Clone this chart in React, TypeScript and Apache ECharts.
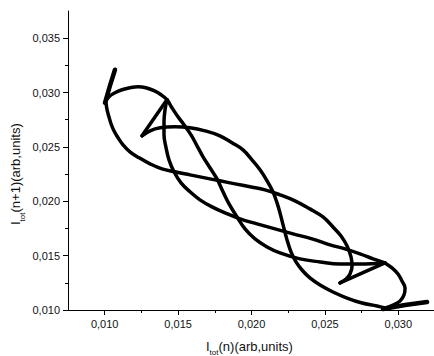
import React, { useEffect, useRef } from 'react';
import * as echarts from 'echarts';

// Axis ticks (data units)
const xMajorTicks = [0.01, 0.015, 0.02, 0.025, 0.03];
const xMinorTicks = [0.0125, 0.0175, 0.0225, 0.0275];
const yMajorTicks = [0.01, 0.015, 0.02, 0.025, 0.03, 0.035];
const yMinorTicks = [0.0125, 0.0175, 0.0225, 0.0275, 0.0325];

// Trajectory pieces, [I(n), I(n+1)]
const hookTopLeft = [[0.0107, 0.0321], [0.01036, 0.03063], [0.01002, 0.02906]];
const topArcToArrowTip = [
  [0.01002, 0.02906], [0.01029, 0.02961], [0.0107, 0.02998], [0.01118, 0.03026],
  [0.01172, 0.03044], [0.01227, 0.03053], [0.01281, 0.03044], [0.01336, 0.03017],
  [0.01384, 0.0298], [0.01424, 0.02934], [0.01458, 0.0286], [0.01499, 0.02777],
  [0.0154, 0.02704], [0.01588, 0.02611], [0.01629, 0.0251], [0.0167, 0.02409],
  [0.01717, 0.02308], [0.01765, 0.02206], [0.01806, 0.02087], [0.01847, 0.01976],
  [0.01901, 0.01856], [0.01956, 0.01746], [0.02024, 0.01654], [0.02106, 0.0158],
  [0.02194, 0.01525], [0.0233, 0.0147], [0.02467, 0.01442], [0.02603, 0.01424],
  [0.02739, 0.01424], [0.02909, 0.01433],
];
const arrowTipToCorner = [[0.02909, 0.01433], [0.02603, 0.01249]];
const leftSweep = [
  [0.01009, 0.02906], [0.01016, 0.02842], [0.01029, 0.02777], [0.01043, 0.02713],
  [0.01063, 0.02648], [0.01091, 0.02584], [0.01125, 0.02519], [0.01172, 0.02455],
  [0.01234, 0.024], [0.01309, 0.02344], [0.0139, 0.02298], [0.01479, 0.02271],
  [0.01581, 0.02243], [0.01683, 0.02215], [0.01785, 0.02188], [0.01888, 0.0216],
  [0.0199, 0.02133], [0.02092, 0.02105], [0.02194, 0.02059], [0.02296, 0.02004],
  [0.02398, 0.0193], [0.02487, 0.01856], [0.02555, 0.01764], [0.0261, 0.01681],
  [0.02651, 0.01589], [0.02678, 0.01488], [0.02685, 0.01405], [0.02671, 0.01331],
  [0.02644, 0.01285], [0.02603, 0.01249],
];
const apexToCorner = [[0.01424, 0.02934], [0.01254, 0.02602]];
const lensArc = [
  [0.01254, 0.02602], [0.01309, 0.02648], [0.01377, 0.02676], [0.01479, 0.02685],
  [0.01581, 0.02676], [0.01683, 0.02648], [0.01785, 0.02602], [0.01867, 0.02538],
  [0.01942, 0.02473], [0.02003, 0.02381], [0.02058, 0.02289], [0.02106, 0.02188],
  [0.02146, 0.02087], [0.02174, 0.01985], [0.02194, 0.01893], [0.02215, 0.01783],
  [0.02242, 0.01645], [0.02269, 0.01534], [0.02303, 0.01442], [0.02344, 0.01368],
  [0.02398, 0.01295], [0.02467, 0.0123], [0.02555, 0.01166], [0.02651, 0.0111],
  [0.02753, 0.01064], [0.02855, 0.01037], [0.02909, 0.01018],
];
const tailBottomRight = [[0.02896, 0.01009], [0.03046, 0.01046], [0.03196, 0.01074]];
const bottomLoop = [
  [0.02909, 0.01433], [0.02957, 0.01387], [0.02998, 0.01331], [0.03025, 0.01267],
  [0.03046, 0.01203], [0.03039, 0.01138], [0.03012, 0.01083], [0.02964, 0.01046],
  [0.02909, 0.01018],
];
const innerCurve = [
  [0.01424, 0.02934], [0.01411, 0.02842], [0.01404, 0.02731], [0.01404, 0.02611],
  [0.01418, 0.02492], [0.01438, 0.02381], [0.01472, 0.02271], [0.0152, 0.02169],
  [0.01581, 0.02087], [0.01649, 0.02013], [0.01731, 0.01948], [0.0182, 0.01893],
  [0.01922, 0.01838], [0.02038, 0.01792], [0.0216, 0.01746], [0.02283, 0.017],
  [0.02412, 0.01654], [0.02535, 0.01599], [0.02637, 0.01562], [0.02739, 0.01516],
  [0.02828, 0.0147], [0.02909, 0.01433],
];

const FONT = '"Liberation Sans", Arial, sans-serif';
const fmt = (v: number) => v.toFixed(3).replace('.', ',');

function measure(text: string, size: number) {
  const c = document.createElement('canvas').getContext('2d');
  if (!c) return text.length * size * 0.55;
  c.font = `${size}px ${FONT}`;
  return c.measureText(text).width;
}

export default function App() {
  const ref = useRef<HTMLDivElement>(null);
  useEffect(() => {
    if (!ref.current) return;
    const chart = echarts.init(ref.current, null, { renderer: 'svg' });
    const mainSize = 13;
    const subSize = 8;
    const wI = measure('I', mainSize);
    const wSub = measure('tot', subSize);

    const lineSeries = (data: number[][], width = 3.5, smooth: number | boolean = 0.4) => ({
      type: 'line',
      data,
      xAxisIndex: 0,
      yAxisIndex: 0,
      showSymbol: false,
      symbol: 'none',
      smooth,
      silent: true,
      lineStyle: { color: '#000', width, cap: 'round', join: 'round' },
    });

    const txt = (text: string, x: number, y: number, size: number) => ({
      type: 'text',
      x,
      y,
      style: {
        text,
        fontSize: size,
        fontFamily: FONT,
        fill: '#111',
        align: 'left',
        verticalAlign: 'middle',
        textAlign: 'left',
        textVerticalAlign: 'middle',
      },
    });

    const axisCommon = {
      type: 'value',
      splitLine: { show: false },
    };

    chart.setOption({
      animation: false,
      grid: { left: 68, top: 11, width: 367, height: 299, containLabel: false, outerBoundsMode: 'none' },
      xAxis: [
        {
          ...axisCommon,
          min: 0.0075,
          max: 0.0325,
          position: 'bottom',
          axisLine: { show: true, onZero: false, lineStyle: { color: '#000', width: 1 } },
          axisTick: { show: true, customValues: xMajorTicks, length: 5, lineStyle: { color: '#000' } },
          axisLabel: { show: true, customValues: xMajorTicks, formatter: fmt, margin: 8, fontSize: 11, color: '#111', fontFamily: FONT },
        },
        {
          ...axisCommon,
          min: 0.0075,
          max: 0.0325,
          position: 'bottom',
          axisLine: { show: false, onZero: false },
          axisTick: { show: true, customValues: xMinorTicks, length: 3, lineStyle: { color: '#000' } },
          axisLabel: { show: false },
        },
      ],
      yAxis: [
        {
          ...axisCommon,
          min: 0.01,
          max: 0.0375,
          position: 'left',
          axisLine: { show: true, onZero: false, lineStyle: { color: '#000', width: 1 } },
          axisTick: { show: true, customValues: yMajorTicks, length: 5, lineStyle: { color: '#000' } },
          axisLabel: { show: true, customValues: yMajorTicks, formatter: fmt, margin: 8, fontSize: 11, color: '#111', fontFamily: FONT },
        },
        {
          ...axisCommon,
          min: 0.01,
          max: 0.0375,
          position: 'left',
          axisLine: { show: false, onZero: false },
          axisTick: { show: true, customValues: yMinorTicks, length: 3, lineStyle: { color: '#000' } },
          axisLabel: { show: false },
        },
      ],
      series: [
        lineSeries(hookTopLeft, 4.5, false),
        lineSeries(topArcToArrowTip),
        lineSeries(arrowTipToCorner, 3.5, false),
        lineSeries(leftSweep),
        lineSeries(apexToCorner, 3.5, false),
        lineSeries(lensArc),
        lineSeries(tailBottomRight, 4.5, false),
        lineSeries(bottomLoop),
        lineSeries(innerCurve),
      ],
      graphic: [
        {
          type: 'group',
          x: 206,
          y: 346,
          children: [
            txt('I', 0, 0, mainSize),
            txt('tot', wI, 6.5, subSize),
            txt('(n)(arb,units)', wI + wSub, 0, mainSize),
          ],
        },
        {
          type: 'group',
          x: 15.5,
          y: 225,
          rotation: Math.PI / 2,
          children: [
            txt('I', 0, 0, mainSize),
            txt('tot', wI, 6.5, subSize),
            txt('(n+1)(arb,units)', wI + wSub, 0, mainSize),
          ],
        },
      ],
    });
    return () => chart.dispose();
  }, []);
  return (
    <div
      ref={ref}
      style={{ position: 'absolute', left: 0, top: 0, width: 434, height: 356, background: '#fff' }}
    />
  );
}
